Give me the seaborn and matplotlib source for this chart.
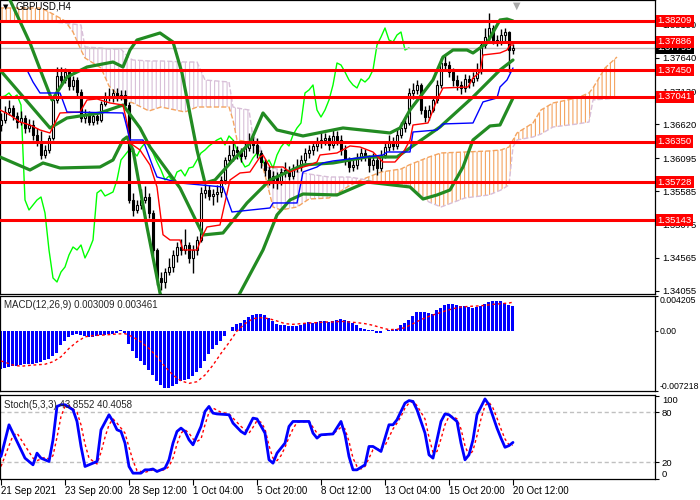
import numpy as np
import pandas as pd
import matplotlib
matplotlib.use("Agg")
import matplotlib.pyplot as plt
import matplotlib.transforms as mtransforms
import seaborn as sns

# ---- GBPUSD H4 bars, 21 Sep 04:00 .. 20 Oct 12:00 (bar index 0..128) ----
opens = [
    1.36600, 1.36684, 1.36807, 1.36869, 1.36746, 1.36653, 1.36715, 1.36561, 1.36607, 1.36453,
    1.36345, 1.36145, 1.36222, 1.36407, 1.36992, 1.37362, 1.37300, 1.37423, 1.37208, 1.37300,
    1.37115, 1.36715, 1.36776, 1.36653, 1.36746, 1.36684, 1.36930, 1.37038, 1.37054, 1.37100,
    1.37023, 1.37069, 1.36915, 1.35452, 1.35298, 1.35375, 1.35452, 1.35498, 1.35252, 1.34682,
    1.34251, 1.34189, 1.34343, 1.34420, 1.34605, 1.34728, 1.34682, 1.34759, 1.34559, 1.34682,
    1.34836, 1.35560, 1.35606, 1.35514, 1.35544, 1.35575, 1.35760, 1.36068, 1.36145, 1.36222,
    1.36191, 1.36130, 1.36253, 1.36330, 1.36299, 1.36176, 1.36037, 1.35914, 1.35760, 1.35822,
    1.35729, 1.35883, 1.35914, 1.35822, 1.35945, 1.35960, 1.36068, 1.36176, 1.36222, 1.36284,
    1.36330, 1.36376, 1.36407, 1.36299, 1.36438, 1.36376, 1.36222, 1.36068, 1.35960, 1.35991,
    1.36099, 1.36176, 1.36114, 1.35991, 1.36068, 1.35945, 1.36145, 1.36268, 1.36345, 1.36284,
    1.36453, 1.36561, 1.36638, 1.37100, 1.37146, 1.37223, 1.36838, 1.36730, 1.36838, 1.36992,
    1.37223, 1.37562, 1.37531, 1.37423, 1.37300, 1.37223, 1.37177, 1.37315, 1.37269, 1.37331,
    1.37454, 1.37839, 1.37962, 1.38101, 1.37916, 1.37885, 1.37993, 1.38039, 1.37762]
highs = [
    1.36790, 1.36900, 1.36990, 1.36920, 1.36800, 1.36830, 1.36760, 1.36700, 1.36680, 1.36560,
    1.36520, 1.36300, 1.36450, 1.37050, 1.37500, 1.37500, 1.37480, 1.37450, 1.37360, 1.37340,
    1.37160, 1.36850, 1.36830, 1.36800, 1.36790, 1.36980, 1.37120, 1.37180, 1.37160, 1.37170,
    1.37150, 1.37150, 1.36960, 1.35560, 1.35450, 1.35620, 1.35660, 1.35560, 1.35300, 1.34720,
    1.34350, 1.34400, 1.34560, 1.34680, 1.34800, 1.34850, 1.35000, 1.34800, 1.34760, 1.34900,
    1.35650, 1.35700, 1.35680, 1.35620, 1.35680, 1.35820, 1.36120, 1.36300, 1.36380, 1.36280,
    1.36250, 1.36360, 1.36480, 1.36430, 1.36400, 1.36220, 1.36080, 1.35980, 1.35900, 1.35880,
    1.35950, 1.36030, 1.35980, 1.36010, 1.36080, 1.36150, 1.36250, 1.36300, 1.36350, 1.36420,
    1.36500, 1.36480, 1.36460, 1.36550, 1.36520, 1.36450, 1.36300, 1.36120, 1.36080, 1.36180,
    1.36250, 1.36230, 1.36150, 1.36180, 1.36120, 1.36220, 1.36340, 1.36450, 1.36420, 1.36550,
    1.36650, 1.36720, 1.37180, 1.37250, 1.37300, 1.37260, 1.36900, 1.36920, 1.37060, 1.37300,
    1.37640, 1.37680, 1.37600, 1.37480, 1.37380, 1.37290, 1.37400, 1.37380, 1.37420, 1.37560,
    1.37900, 1.38100, 1.38330, 1.38150, 1.38000, 1.38080, 1.38100, 1.38060, 1.37860]
lows = [
    1.36520, 1.36630, 1.36760, 1.36690, 1.36560, 1.36600, 1.36480, 1.36500, 1.36380, 1.36290,
    1.36090, 1.36100, 1.36180, 1.36380, 1.36950, 1.37220, 1.37250, 1.37150, 1.37150, 1.37060,
    1.36650, 1.36640, 1.36600, 1.36610, 1.36620, 1.36650, 1.36900, 1.36980, 1.36960, 1.36970,
    1.36990, 1.36860, 1.35400, 1.35200, 1.35250, 1.35320, 1.35400, 1.35180, 1.34600, 1.34150,
    1.34060, 1.34100, 1.34300, 1.34350, 1.34500, 1.34600, 1.34620, 1.34480, 1.34320, 1.34600,
    1.34800, 1.35480, 1.35450, 1.35380, 1.35420, 1.35500, 1.35700, 1.36000, 1.36050, 1.36080,
    1.36040, 1.36080, 1.36200, 1.36180, 1.36100, 1.35950, 1.35820, 1.35680, 1.35640, 1.35620,
    1.35680, 1.35800, 1.35760, 1.35780, 1.35880, 1.35900, 1.36020, 1.36100, 1.36150, 1.36200,
    1.36260, 1.36300, 1.36220, 1.36250, 1.36300, 1.36150, 1.35990, 1.35880, 1.35900, 1.35930,
    1.36050, 1.36050, 1.35880, 1.35920, 1.35830, 1.35900, 1.36100, 1.36200, 1.36220, 1.36240,
    1.36400, 1.36500, 1.36600, 1.37000, 1.37080, 1.36780, 1.36650, 1.36680, 1.36800, 1.36950,
    1.37180, 1.37450, 1.37350, 1.37200, 1.37150, 1.37080, 1.37120, 1.37180, 1.37200, 1.37280,
    1.37400, 1.37800, 1.37900, 1.37850, 1.37820, 1.37840, 1.37900, 1.37420, 1.37700]
closes = [
    1.36684, 1.36807, 1.36869, 1.36746, 1.36653, 1.36715, 1.36561, 1.36607, 1.36453, 1.36345,
    1.36145, 1.36222, 1.36407, 1.36992, 1.37362, 1.37300, 1.37423, 1.37208, 1.37300, 1.37115,
    1.36715, 1.36776, 1.36653, 1.36746, 1.36684, 1.36930, 1.37038, 1.37054, 1.37100, 1.37023,
    1.37069, 1.36915, 1.35452, 1.35298, 1.35375, 1.35452, 1.35498, 1.35252, 1.34682, 1.34251,
    1.34189, 1.34343, 1.34420, 1.34605, 1.34728, 1.34682, 1.34759, 1.34559, 1.34682, 1.34836,
    1.35560, 1.35606, 1.35514, 1.35544, 1.35575, 1.35760, 1.36068, 1.36145, 1.36222, 1.36191,
    1.36130, 1.36253, 1.36330, 1.36299, 1.36176, 1.36037, 1.35914, 1.35760, 1.35822, 1.35729,
    1.35883, 1.35914, 1.35822, 1.35945, 1.35960, 1.36068, 1.36176, 1.36222, 1.36284, 1.36330,
    1.36376, 1.36407, 1.36299, 1.36438, 1.36376, 1.36222, 1.36068, 1.35960, 1.35991, 1.36099,
    1.36176, 1.36114, 1.35991, 1.36068, 1.35945, 1.36145, 1.36268, 1.36345, 1.36284, 1.36453,
    1.36561, 1.36638, 1.37100, 1.37146, 1.37223, 1.36838, 1.36730, 1.36838, 1.36992, 1.37223,
    1.37562, 1.37531, 1.37423, 1.37300, 1.37223, 1.37177, 1.37315, 1.37269, 1.37331, 1.37454,
    1.37839, 1.37962, 1.38101, 1.37916, 1.37885, 1.37993, 1.38039, 1.37762, 1.37795]

# Bollinger bands
bb_upper_idx = [-0.25, 2.25, 7.25, 10.5, 12.75, 16.5, 21.5, 28, 30.5, 32.25, 34, 39.75, 43, 45.25,
                49, 51, 53.5, 58, 62.25, 65.5, 69, 75.5, 85.5, 97.25, 99.75, 102.25, 108, 110.5,
                113, 116.5, 118, 121.5, 124.75, 126.5, 128]
bb_upper = [1.38917, 1.38532, 1.37870, 1.37346, 1.36992, 1.37346, 1.37500, 1.37577, 1.37500,
            1.37762, 1.37916, 1.38024, 1.37885, 1.37408, 1.36222, 1.35714, 1.35760, 1.36068,
            1.36330, 1.36792, 1.36530, 1.36438, 1.36561, 1.36484, 1.36561, 1.36838, 1.37300,
            1.37654, 1.37762, 1.37762, 1.37716, 1.37870, 1.38224, 1.38239, 1.38209]
bb_mid_idx = [-0.25, 12.25, 16.5, 24.75, 30.5, 34.75, 37.25, 44.75, 50.5, 55.5, 61.5, 67.25,
              75.5, 83, 91.5, 99, 104, 109.75, 118, 124.75, 128]
bb_mid = [1.37454, 1.36561, 1.36715, 1.36792, 1.36915, 1.36561, 1.36268, 1.35637, 1.34913,
          1.34944, 1.35406, 1.35760, 1.35991, 1.36022, 1.36114, 1.36114, 1.36330, 1.36576,
          1.37038, 1.37454, 1.37608]
bb_lower_idx = [-0.25, 7.25, 10.5, 14.75, 24.75, 28, 30.5, 31.5, 33, 36.5, 39.75, 42.25, 49.75,
                56, 59.75, 65.5, 69, 72.25, 75.5, 84, 91.5, 102.25, 105.5, 109, 112.25, 115.5,
                118, 122.25, 124.75, 128]
bb_lower = [1.36114, 1.35914, 1.36022, 1.35945, 1.35960, 1.36068, 1.36376, 1.36422, 1.36222,
            1.35036, 1.34020, 1.33604, 1.33296, 1.33635, 1.34020, 1.34682, 1.35222, 1.35452,
            1.35544, 1.35529, 1.35729, 1.35652, 1.35467, 1.35529, 1.35606, 1.35960, 1.36376,
            1.36592, 1.36607, 1.37023]

# Ichimoku: tenkan (red), kijun (blue), cloud spans
tenkan_idx = [-0.25, 2.25, 4.75, 7.25, 9.75, 12.25, 13.5, 14.75, 19.75, 21.5, 24, 27.25, 30.5,
              31.5, 32.25, 34.75, 37.25, 39, 40.5, 42.25, 44.75, 45.5, 49, 50.25, 51.5, 54.75,
              57.25, 59.75, 62.25, 64.75, 65.5, 67.25, 70.5, 72.25, 74.75, 77.25, 79, 79.75,
              84, 87.25, 89.75, 93, 95.5, 98.5, 100.5, 102.25, 103, 106.75, 109, 110.5,
              116.75, 118, 119.75, 120.5, 124.75, 126.5, 127.25, 128]
tenkan = [1.36838, 1.36761, 1.36653, 1.36607, 1.36530, 1.36484, 1.36638, 1.36792, 1.36807,
          1.36992, 1.37008, 1.36946, 1.36915, 1.36638, 1.36330, 1.36222, 1.35991, 1.35652,
          1.34917, 1.34836, 1.34836, 1.34682, 1.34682, 1.34882, 1.35036, 1.35067, 1.35760,
          1.35868, 1.35883, 1.36114, 1.36145, 1.35960, 1.35960, 1.35883, 1.35945, 1.35991,
          1.36037, 1.36145, 1.36176, 1.36284, 1.36268, 1.36191, 1.36037, 1.36037, 1.36176,
          1.36376, 1.36607, 1.36638, 1.36992, 1.37177, 1.37192, 1.37331, 1.37423, 1.37685,
          1.37716, 1.37762, 1.37839, 1.37839]
kijun_idx = [-0.25, 6.5, 8, 9.75, 14.75, 16.5, 30.5, 31, 32.25, 35.5, 38, 39, 44.75, 55.5, 57.75,
             67.25, 68, 74, 75.5, 79, 80.5, 83, 95.5, 96.5, 102.25, 103, 109, 110.5, 118,
             120.5, 124, 124.75, 126.5, 128]
kijun = [1.37454, 1.37454, 1.37269, 1.37100, 1.37100, 1.36807, 1.36792, 1.36684, 1.36376,
         1.36376, 1.35960, 1.35806, 1.35714, 1.35652, 1.35267, 1.35329, 1.35406, 1.35406,
         1.35883, 1.35960, 1.36022, 1.36053, 1.36145, 1.36191, 1.36191, 1.36499, 1.36530,
         1.36623, 1.36638, 1.36962, 1.37023, 1.37192, 1.37300, 1.37485]
cloud_idx = [-1, 10, 13, 16, 18, 20, 21, 25, 27, 30, 32, 33, 37, 40, 46, 49, 51, 57, 58, 59, 62,
             63, 64, 65, 66, 68, 70, 74, 77, 82, 85, 87, 90, 95, 100, 102, 107, 110, 116, 122,
             125, 127, 128, 129, 133, 135, 138, 144, 147, 148, 151, 154]
span_a = [1.38409, 1.38409, 1.38316, 1.38209, 1.38039, 1.37762, 1.37639, 1.37485, 1.37208,
          1.37023, 1.36961, 1.36946, 1.36823, 1.36884, 1.36807, 1.36884, 1.36884, 1.36884,
          1.36684, 1.36376, 1.36345, 1.36330, 1.36330, 1.36068, 1.35837, 1.35344, 1.35298,
          1.35344, 1.35467, 1.35483, 1.35591, 1.35668, 1.35760, 1.35883, 1.35929, 1.35991,
          1.36114, 1.36176, 1.36191, 1.36207, 1.36222, 1.36268, 1.36376, 1.36484, 1.36638,
          1.36838, 1.36946, 1.37023, 1.37100, 1.37177, 1.37485, 1.37654]
span_b = [1.38193, 1.38193, 1.38193, 1.38178, 1.38162, 1.38147, 1.37808, 1.37793, 1.37777,
          1.37777, 1.37639, 1.37608, 1.37593, 1.37593, 1.37577, 1.37577, 1.37300, 1.37269,
          1.36884, 1.36869, 1.36838, 1.36422, 1.36391, 1.36222, 1.35960, 1.35945, 1.35914,
          1.35883, 1.35852, 1.35806, 1.35806, 1.35806, 1.35776, 1.35714, 1.35683, 1.35683,
          1.35421, 1.35344, 1.35483, 1.35529, 1.35606, 1.35683, 1.36268, 1.36376, 1.36422,
          1.36468, 1.36576, 1.36622, 1.36653, 1.36992, 1.37007, 1.37023]

# support / resistance levels and last price
levels = [1.38209, 1.37886, 1.37450, 1.37041, 1.36350, 1.35728, 1.35143]
last_price = 1.37795
price_ticks = [1.34055, 1.34565, 1.35075, 1.35585, 1.36095, 1.36620, 1.37130, 1.37640, 1.38150]

# MACD(12,26,9), values in units of 0.0001
macd_main = [
    -46, -44, -43.2, -42.4, -41.6, -40.8, -40, -40, -39.2, -38.4,
    -37.2, -35.2, -33.2, -30.4, -26, -17.2, -12, -7.2, -4.4, -3.2,
    -4.4, -6.4, -7.2, -7.2, -6, -5.2, -4.4, -3.6, -3.2, -2.4,
    1, -2.4, -15.2, -24.4, -32.4, -36.4, -40.8, -46.4, -53.2, -60,
    -65.2, -68, -68.4, -66.4, -63.2, -60.4, -58.4, -57.2, -54.4, -49.2,
    -44, -36.4, -27.2, -21.2, -16.4, -12, -6, -0.5, 4.8, 8,
    9.2, 12.8, 16.8, 19.6, 20.4, 20.8, 18.8, 16, 12, 8.8,
    7.2, 7.2, 6, 5.6, 6, 7.6, 9.6, 10.4, 10, 10.4,
    11.6, 11.6, 10.8, 12, 12.8, 14.4, 12.8, 12, 9.6, 7.6,
    3.6, 2.8, 1.6, 0.8, -2, -2, 0, 0.8, 1.6, 2.8,
    6.8, 10, 12.8, 18, 22.4, 22.4, 22.4, 21.6, 20.8, 24.8,
    27.6, 31.2, 32.8, 32.8, 31.6, 30, 29.6, 28.8, 27.6, 28.8,
    29.6, 32.8, 34.8, 35.6, 35.6, 35.6, 33.6, 31.6, 30.09]
macd_sig_idx = [0, 3, 5, 8, 11, 13, 15, 17, 19, 21, 23, 26, 29, 31, 33, 35, 37, 39, 41, 43, 45, 47,
                49, 51, 53, 55, 57, 59, 61, 63, 65, 67, 69, 71, 73, 75, 77, 79, 81, 83, 85, 87, 89,
                91, 93, 95, 97, 99, 101, 103, 105, 107, 109, 111, 113, 115, 117, 119, 121, 123,
                125, 127, 128]
macd_signal = [-36, -41, -42.4, -41, -40, -37, -31, -21, -13, -7, -5.6, -4.8, -3.6, -3.2, -7.2,
               -13.2, -21, -31, -43, -53, -60, -63, -61, -53, -41, -27, -14, 0, 8.8, 14.8, 16,
               14.8, 12, 8.8, 8, 8.8, 9.6, 10, 10.8, 10.8, 11.6, 10.8, 10, 8.8, 6.8, 4, 1.6, 2,
               4, 8.8, 13.6, 17.6, 20.8, 24, 26.8, 28.8, 29.6, 30, 30.8, 32, 32.8, 33.6, 34.61]

# Stochastic(5,3,3)
stoch_idx = [0, 2, 3, 5, 6, 8, 9, 10, 12, 13, 14, 15, 16, 18, 19, 20, 21, 23, 24, 25, 27, 28, 29,
             30, 31, 32, 33, 35, 36, 37, 38, 39, 41, 42, 43, 44, 45, 46, 47, 48, 50, 51, 52, 53,
             54, 57, 58, 60, 61, 63, 64, 66, 67, 68, 69, 71, 72, 73, 77, 78, 79, 80, 83, 85, 86,
             87, 88, 89, 91, 92, 93, 95, 96, 97, 98, 99, 101, 102, 103, 104, 106, 107, 108, 109,
             110, 111, 112, 114, 115, 116, 117, 118, 119, 121, 122, 123, 124, 125, 126, 127, 128]
stoch_main = [27, 65, 55, 35, 25, 17, 31, 25, 21, 47, 87, 89, 89, 83, 69, 39, 15, 19, 21, 59, 77,
              69, 59, 57, 43, 15, 7, 7, 11, 11, 12, 9, 13, 23, 43, 57, 61, 57, 47, 41, 63, 81,
              87, 79, 78, 77, 67, 57, 54, 73, 72, 55, 23, 19, 31, 43, 63, 69, 69, 55, 49, 53, 54,
              69, 53, 27, 11, 11, 17, 39, 39, 33, 49, 65, 65, 71, 91, 94, 93, 83, 55, 29, 25, 47,
              69, 78, 77, 69, 43, 23, 29, 47, 77, 96, 89, 75, 61, 49, 38, 40, 43.86]
stoch_sig_idx = [0, 2, 3, 4, 6, 8, 9, 11, 12, 13, 14, 15, 16, 17, 19, 20, 21, 22, 24, 25, 26, 27,
                 28, 29, 31, 32, 33, 34, 36, 38, 39, 41, 42, 43, 44, 45, 46, 47, 48, 49, 50, 51,
                 52, 53, 55, 57, 58, 60, 62, 63, 64, 65, 66, 67, 68, 69, 70, 71, 72, 73, 74, 77,
                 78, 79, 80, 83, 85, 86, 87, 88, 89, 90, 91, 92, 93, 95, 96, 97, 98, 99, 100, 101,
                 102, 103, 104, 106, 107, 108, 109, 110, 111, 112, 113, 114, 115, 116, 117, 118,
                 119, 120, 121, 122, 123, 124, 125, 126, 127, 128]
stoch_signal = [15, 40, 52, 55, 40, 25, 22, 26, 24, 28, 50, 75, 87, 88, 80, 65, 42, 25, 18, 32, 50,
                65, 72, 67, 55, 38, 22, 10, 8, 11, 10, 11, 15, 25, 42, 55, 59, 55, 48, 45, 48, 65,
                80, 85, 80, 78, 73, 63, 55, 62, 70, 68, 60, 40, 25, 22, 28, 38, 50, 60, 68, 69, 62,
                55, 52, 54, 62, 60, 45, 25, 15, 12, 15, 25, 35, 37, 40, 50, 60, 67, 75, 85, 91, 93,
                88, 72, 50, 32, 33, 48, 65, 75, 75, 72, 60, 40, 28, 34, 52, 72, 88, 92, 85, 73, 60,
                48, 41, 40.41]

tick_pos = [0, 16, 32, 48, 64, 80, 96, 112, 128]
tick_labels = ['21 Sep 2021', '23 Sep 20:00', '28 Sep 12:00', '1 Oct 04:00', '5 Oct 20:00',
               '8 Oct 12:00', '13 Oct 04:00', '15 Oct 20:00', '20 Oct 12:00']

sns.set_style("white")
plt.rcParams['font.family'] = ['Liberation Sans', 'DejaVu Sans']
plt.rcParams['hatch.linewidth'] = 0.8

fig = plt.figure(figsize=(7, 5), dpi=100)
ax = fig.add_axes([0.0, 0.412, 0.9357, 0.588])
ax_macd = fig.add_axes([0.0, 0.218, 0.9357, 0.19], sharex=ax)
ax_st = fig.add_axes([0.0, 0.042, 0.9357, 0.168], sharex=ax)

bars = pd.DataFrame({'open': opens, 'high': highs, 'low': lows, 'close': closes})
bars['idx'] = np.arange(len(bars))

# --- cloud ---
cx = np.array(cloud_idx, dtype=float)
sa = np.array(span_a)
sb = np.array(span_b)
ax.fill_between(cx, sa, sb, where=sa >= sb, interpolate=True, facecolor='none',
                edgecolor='#F4A460', hatch='||||', lw=0, zorder=1)
ax.fill_between(cx, sa, sb, where=sa < sb, interpolate=True, facecolor='none',
                edgecolor='#D8BFD8', hatch='||||', lw=0, zorder=1)
sns.lineplot(x=cx, y=sa, ax=ax, color='#F4A460', lw=1, linestyle='--',
             estimator=None, sort=False, zorder=1.5)
sns.lineplot(x=cx, y=sb, ax=ax, color='#D8BFD8', lw=1, linestyle='--',
             estimator=None, sort=False, zorder=1.5)

# chikou span = close shifted 26 bars back
sns.lineplot(x=bars['idx'][:-26].values, y=bars['close'][26:].values, ax=ax,
             color='#00FF00', lw=1, estimator=None, sort=False, zorder=2)

# current price line
ax.axhline(last_price, color='#C0C0C0', lw=1, zorder=2)

# --- candles ---
up = bars['close'] >= bars['open']
ax.vlines(bars['idx'], bars['low'], bars['high'], color='black', lw=1, zorder=3)
body_lo = bars[['open', 'close']].min(axis=1)
body_h = (bars['close'] - bars['open']).abs().clip(lower=0.00003)
ax.bar(bars['idx'], body_h, bottom=body_lo, width=0.72,
       color=np.where(up, 'white', 'black'), edgecolor='black', lw=0.8, zorder=4)

# Bollinger bands
for bx, by in [(bb_upper_idx, bb_upper), (bb_mid_idx, bb_mid), (bb_lower_idx, bb_lower)]:
    sns.lineplot(x=bx, y=by, ax=ax, color='#228B22', lw=2.3, estimator=None, sort=False, zorder=5)

sns.lineplot(x=tenkan_idx, y=tenkan, ax=ax, color='red', lw=1, estimator=None, sort=False, zorder=5)
sns.lineplot(x=kijun_idx, y=kijun, ax=ax, color='blue', lw=1, estimator=None, sort=False, zorder=5)

# levels
for lv in levels:
    ax.axhline(lv, color='red', lw=2.2, zorder=6)

blend = mtransforms.blended_transform_factory(ax.transAxes, ax.transData)
for lv in levels:
    ax.text(1.004, lv, f'{lv:.5f}', transform=blend, color='white', fontsize=6.8,
            va='center', ha='left', clip_on=False, zorder=10,
            bbox=dict(boxstyle='square,pad=0.18', fc='red', ec='none'))
ax.text(1.004, last_price, f'{last_price:.5f}', transform=blend, color='white', fontsize=6.8,
        va='center', ha='left', clip_on=False, zorder=9,
        bbox=dict(boxstyle='square,pad=0.18', fc='black', ec='none'))

ax.text(0.005, 0.977, '▼', transform=ax.transAxes, fontsize=5, va='center', ha='left',
        color='black', family=['DejaVu Sans'])
ax.text(0.024, 0.977, 'GBPUSD,H4', transform=ax.transAxes, fontsize=7, va='center',
        ha='left', color='black')
ax.text(517 / 655, 0.998, '▼', transform=ax.transAxes, fontsize=7, va='top', ha='center',
        color='#A9A9A9', family=['DejaVu Sans'])

ax.set_ylim(1.34004, 1.38532)
ax.yaxis.tick_right()
ax.set_yticks(price_ticks)
ax.set_yticklabels([f'{t:.5f}' for t in price_ticks])

# --- MACD ---
ax_macd.bar(np.arange(len(macd_main)), macd_main, width=0.75, color='#0000FF',
            edgecolor='none', lw=0, antialiased=False, zorder=2)
sns.lineplot(x=macd_sig_idx, y=macd_signal, ax=ax_macd, color='red', lw=1,
             linestyle=(0, (2, 2)), estimator=None, sort=False, zorder=3)
ax_macd.set_ylim(-72.18, 42.05)
ax_macd.yaxis.tick_right()
ax_macd.set_yticks([-72.18, 0, 42.05])
ax_macd.set_yticklabels(['-0.007218', '0.00', '0.004205'])
mlabels = ax_macd.get_yticklabels()
mlabels[0].set_va('bottom')
mlabels[2].set_va('top')
ax_macd.text(0.006, 0.905, 'MACD(12,26,9) 0.003009 0.003461', transform=ax_macd.transAxes,
             fontsize=7, va='center', ha='left')

# --- Stochastic ---
for lvl in (20, 80):
    ax_st.axhline(lvl, color='#C0C0C0', lw=1, ls=(0, (3, 2)), zorder=1)
sns.lineplot(x=stoch_sig_idx, y=stoch_signal, ax=ax_st, color='red', lw=1,
             linestyle=(0, (2, 2)), estimator=None, sort=False, zorder=2)
sns.lineplot(x=stoch_idx, y=stoch_main, ax=ax_st, color='#0000FF', lw=2,
             estimator=None, sort=False, zorder=3)
ax_st.set_ylim(0, 100.7)
ax_st.yaxis.tick_right()
ax_st.set_yticks([0, 20, 80, 100])
ax_st.set_yticklabels(['0', '20', '80', '100'])
slabels = ax_st.get_yticklabels()
slabels[0].set_va('bottom')
slabels[3].set_va('top')
ax_st.text(0.006, 0.88, 'Stoch(5,3,3) 43.8552 40.4058', transform=ax_st.transAxes,
           fontsize=7, va='center', ha='left')

ax_st.set_xlim(-0.25, 163.5)
ax_st.set_xticks(tick_pos)
ax_st.set_xticklabels(tick_labels)
for lbl in ax_st.get_xticklabels():
    lbl.set_ha('left')

for a in (ax, ax_macd, ax_st):
    a.set_xlabel('')
    a.set_ylabel('')
    a.tick_params(axis='y', direction='out', length=3, width=0.8, labelsize=6.8, pad=2,
                  colors='black')
    for sp in a.spines.values():
        sp.set_color('black')
        sp.set_linewidth(0.9)
ax_macd.tick_params(axis='y', labelsize=6.3, pad=1, length=2)
ax.tick_params(axis='x', bottom=False, labelbottom=False)
ax_macd.tick_params(axis='x', bottom=False, labelbottom=False)
ax_st.tick_params(axis='x', bottom=True, direction='out', length=4, width=0.8,
                  labelsize=7, pad=1, colors='black')

fig.savefig('out.png', dpi=100)
